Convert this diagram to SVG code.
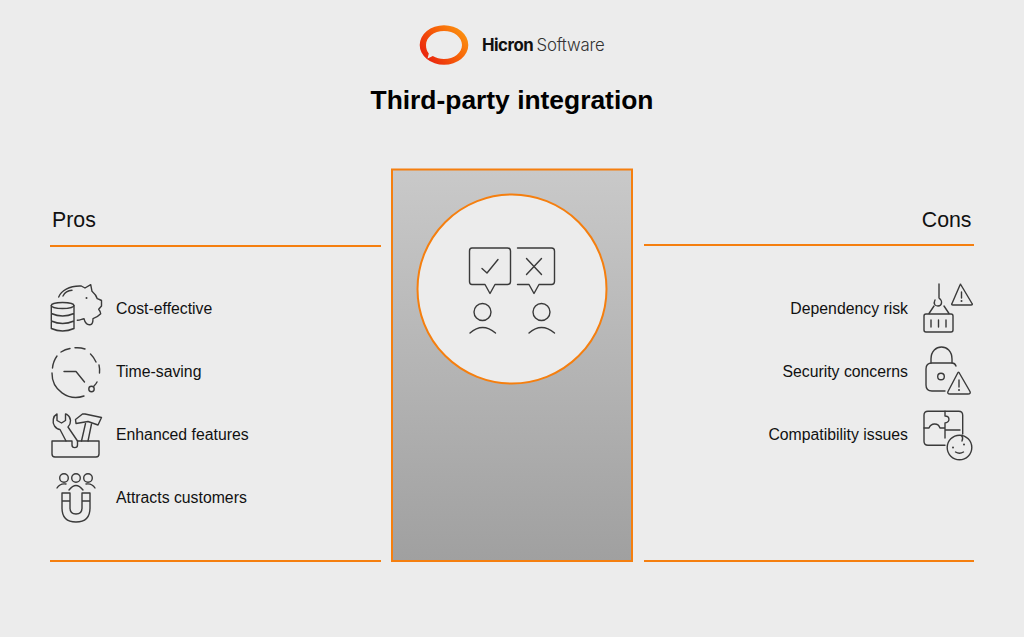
<svg xmlns="http://www.w3.org/2000/svg" width="1024" height="637" viewBox="0 0 1024 637">
<defs>
<linearGradient id="panel" x1="0" y1="0" x2="0" y2="1"><stop offset="0" stop-color="#c9c9c9"/><stop offset="1" stop-color="#a0a0a0"/></linearGradient>
<linearGradient id="logo" x1="0.95" y1="0.15" x2="0.05" y2="0.75"><stop offset="0" stop-color="#fb9410"/><stop offset="0.45" stop-color="#f76208"/><stop offset="1" stop-color="#e9230f"/></linearGradient>
</defs>
<style>
text{font-family:"Liberation Sans",Arial,sans-serif;fill:#111}
.lbl{font-size:15.800px}
.hd{font-size:21.300px}
.ic{fill:none;stroke:#3a3a3a;stroke-width:1.400;stroke-linecap:round;stroke-linejoin:round}
.dot{fill:#3a3a3a}
.rule{stroke:#f57f0f;stroke-width:2;fill:none}
</style>
<rect width="1024" height="637" fill="#ececec"/>
<g id="logo-mark">
<path fill-rule="evenodd" fill="url(#logo)" d="M419.700 45A24.300 19.800 0 1 1 468.300 45A24.300 19.800 0 1 1 419.700 45ZM444 31C434 31 426 37.200 426 45C426 48.500 427 51.500 428.800 53.500L427.600 58.500L432.800 56C436 58 440 59 444 59C454 59 462 52.800 462 45C462 37.200 454 31 444 31Z"/>
<text x="482" y="51" style="font-family:Inter,'Liberation Sans',sans-serif;font-size:16.800px;font-weight:700;letter-spacing:-.5px">Hicron</text>
<text x="536.500" y="51" style="font-family:Inter,'Liberation Sans',sans-serif;font-size:16.800px;font-weight:300;fill:#333;letter-spacing:-.2px">Software</text>
</g>
<text id="title" x="512" y="109" text-anchor="middle" style="font-size:26.400px;font-weight:700;fill:#000">Third-party integration</text>
<g id="connectors">
<line class="rule" x1="50" y1="246" x2="381" y2="246"/>
<line class="rule" x1="50" y1="561" x2="381" y2="561"/>
<line class="rule" x1="644" y1="245" x2="974" y2="245"/>
<line class="rule" x1="644" y1="561" x2="974" y2="561"/>
</g>
<g id="center-panel">
<rect x="392" y="169.500" width="240" height="391.500" fill="url(#panel)" stroke="#f57f0f" stroke-width="2"/>
<circle cx="512" cy="289" r="94.500" fill="#ececec" stroke="#f57f0f" stroke-width="2"/>
<path class="ic" d="M472 248H507.500Q510.500 248 510.500 251V281.500Q510.500 284.500 507.500 284.500H495L490 293.500L485 284.500H472Q469.500 284.500 469.500 281.500V251Q469.500 248 472 248Z"/>
<path class="ic" d="M482 268.500L487 273L498 259.500"/>
<path class="ic" d="M517.500 248H551.500Q554.500 248 554.500 251V281.500Q554.500 284.500 551.500 284.500H539L534 293.500L529 284.500H517.500"/>
<path class="ic" d="M526.500 258.500L541.500 274.500M541.500 258.500L526.500 274.500"/>
<circle class="ic" cx="482.500" cy="312" r="8.500"/>
<path class="ic" d="M470 333Q482.500 322 495.500 333"/>
<circle class="ic" cx="541.500" cy="312" r="8.500"/>
<path class="ic" d="M529 333Q541.500 322 554.500 333"/>
</g>
<g id="pros">
<text class="hd" x="52" y="226.500">Pros</text>
</g>
<g id="cons">
<text class="hd" x="971.500" y="226.500" text-anchor="end">Cons</text>
</g>
<g id="cost-effective">
<path class="ic" d="M58.700 297C61 291 69 285.500 81.300 286L85 288L90.700 284.700L92 291.300C94.500 293.500 96.500 296 97.300 298.700L100.500 300L101.500 300.500V306L98.700 309.300C100 311 100.700 312.500 100.700 313.700C98 316.500 95 318 93 318.700C93 322 92.500 324.500 90 324.700C87 325 85 323 84 318.700C82 319 80 320.300 77.300 320.300"/>
<path class="ic" d="M63 296C65 292 68.500 290.500 72 290.300"/>
<circle class="dot" cx="86.500" cy="298" r="1"/>
<ellipse class="ic" cx="62.600" cy="305.500" rx="11.300" ry="3"/>
<path class="ic" d="M51.300 305.500V328.500Q62.600 333.500 74 328.500V305.500M51.300 313.500Q62.600 318.500 74 313.500M51.300 321Q62.600 326 74 321"/>
<text class="lbl" x="116" y="313.500">Cost-effective</text>
</g>
<g id="time-saving">
<path class="ic" d="M52.500 368A24 24 0 0 1 57 356"/>
<path class="ic" d="M61 352A24 24 0 0 1 70 348.500"/>
<path class="ic" d="M75 347.800A24 24 0 0 1 85 349"/>
<path class="ic" d="M90.500 354A24 24 0 0 1 96 362"/>
<path class="ic" d="M99 365A24 24 0 0 1 99.500 373"/>
<path class="ic" d="M52 373A24 24 0 0 0 84 396"/>
<path class="ic" d="M94 386Q96 384 97 382"/>
<circle class="ic" cx="91.500" cy="389" r="2.700"/>
<path class="ic" d="M64 371.500H76L84.500 382"/>
<text class="lbl" x="116" y="376.500">Time-saving</text>
</g>
<g id="enhanced-features">
<path class="ic" d="M52 441H72V445C72 448.500 77.500 448.500 77.500 445V441H99V454Q99 457 96 457H55Q52 457 52 454Z"/>
<path class="ic" d="M77.500 441L68 427C71.500 423.500 71.500 417.500 67 414.500L65.500 414V420.500L61.500 423L57 420.500V414C53 416 52 422 54.500 426C56 428 58 429.500 60 429.500L66 441"/>
<path class="ic" d="M81.500 441L85.500 423.500M88 441L91.500 424"/>
<path class="ic" d="M75.500 419.500L82.500 414H85L101.500 417.500L98 425L88 421.500L76 423.500Z"/>
<text class="lbl" x="116" y="439.500">Enhanced features</text>
</g>
<g id="attracts-customers">
<circle class="ic" cx="64" cy="478" r="4.300"/>
<circle class="ic" cx="76" cy="478" r="4.300"/>
<circle class="ic" cx="88" cy="478" r="4.300"/>
<path class="ic" d="M57 488Q60 483 66 484M69 490Q76 481 83 490M86 484Q92 483 95 488"/>
<path class="ic" d="M62 493H70V508Q70 514 76 514Q82 514 82 508V493H90V508Q90 522 76 522Q62 522 62 508ZM62 501H70M82 501H90"/>
<text class="lbl" x="116" y="502.500">Attracts customers</text>
</g>
<g id="dependency-risk">
<path class="ic" d="M939 284V298C943 301 942 306 938 306C935 306 933 304 935 300"/>
<path class="ic" d="M934 306L929 313.500M944 306L949 313.500"/>
<rect class="ic" x="924" y="314" width="29" height="18" rx="2"/>
<path class="ic" d="M931 320V327M938.500 320V327M946 320V327"/>
<path class="ic" d="M961 285L972 303.500Q973 305 971 305H953Q951 305 952 303.500L960 285Q960.500 283.500 961 285Z"/>
<path class="ic" d="M961.500 292V298"/><circle class="dot" cx="961.500" cy="301" r="1"/>
<text class="lbl" x="908" y="313.500" text-anchor="end">Dependency risk</text>
</g>
<g id="security-concerns">
<path class="ic" d="M931 363V359C931 343 952 343 952 359V363"/>
<path class="ic" d="M945 391H932Q926 391 926 385V369Q926 363 932 363H952Q955 363 956 366"/>
<circle class="ic" cx="941" cy="376.500" r="3.300"/>
<path class="ic" d="M959 372.500L970 391.500Q971 394 968 394H950Q947 394 948 391.500L958 372.500Q958.500 372 959 372.500Z"/>
<path class="ic" d="M959 380V387"/><circle class="dot" cx="959" cy="390" r="1"/>
<text class="lbl" x="908" y="376.500" text-anchor="end">Security concerns</text>
</g>
<g id="compatibility-issues">
<path class="ic" d="M945 445.300H928Q924 445.300 924 441.300V415.300Q924 411.300 928 411.300H958.700Q962.700 411.300 962.700 415.300V434"/>
<path class="ic" d="M924 428H929C931 423 938 422.500 940 428H945M945 430H960M945 411.300V416C950 416 950.500 422 945 423V438"/>
<circle class="ic" cx="959.500" cy="447.500" r="12.300"/>
<circle class="dot" cx="953" cy="447.500" r="1"/><circle class="dot" cx="964" cy="444.500" r="1"/>
<path class="ic" d="M955.500 452Q959.500 454.500 963.500 452M961.500 435.500Q963.500 437.500 962 441"/>
<text class="lbl" x="908" y="439.500" text-anchor="end">Compatibility issues</text>
</g>
</svg>
